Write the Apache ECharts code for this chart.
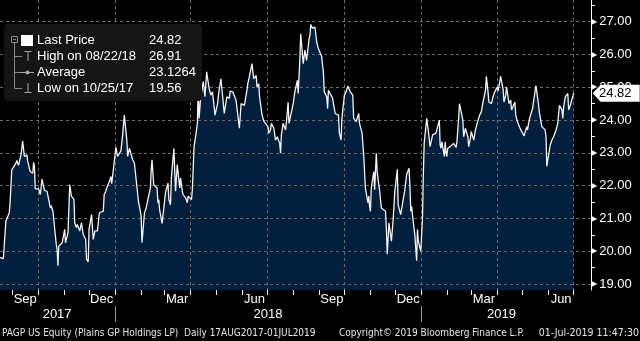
<!DOCTYPE html>
<html>
<head>
<meta charset="utf-8">
<script src="https://cdn.jsdelivr.net/npm/echarts@6/dist/echarts.min.js"></script>
<style>
  html, body { margin: 0; padding: 0; background: #000; }
  #chart { width: 640px; height: 341px; }
</style>
</head>
<body>
<div id="chart"></div>
<script>
// PAGP daily closing prices, 17 Aug 2017 – 01 Jul 2019
const dates = [
  '2017-08-17','2017-08-21','2017-08-22','2017-08-24','2017-08-28','2017-08-29','2017-08-31',
  '2017-09-05','2017-09-06','2017-09-08','2017-09-11','2017-09-13','2017-09-15','2017-09-18','2017-09-19','2017-09-20','2017-09-22','2017-09-25','2017-09-26','2017-09-27','2017-09-28','2017-09-29',
  '2017-10-02','2017-10-04','2017-10-06','2017-10-09','2017-10-12','2017-10-16','2017-10-17','2017-10-19','2017-10-20','2017-10-23','2017-10-24','2017-10-25','2017-10-26','2017-10-30',
  '2017-11-02','2017-11-03','2017-11-06','2017-11-08','2017-11-10','2017-11-13','2017-11-14','2017-11-16','2017-11-17','2017-11-20','2017-11-22','2017-11-24','2017-11-27','2017-11-28','2017-11-30',
  '2017-12-01','2017-12-04','2017-12-06','2017-12-08','2017-12-11','2017-12-13','2017-12-14','2017-12-18','2017-12-19','2017-12-21','2017-12-22','2017-12-26','2017-12-27','2017-12-28','2017-12-29',
  '2018-01-02','2018-01-04','2018-01-05','2018-01-08','2018-01-10','2018-01-12','2018-01-15','2018-01-16','2018-01-18','2018-01-19','2018-01-22','2018-01-24','2018-01-26','2018-01-29','2018-01-30',
  '2018-02-01','2018-02-02','2018-02-05','2018-02-07','2018-02-09','2018-02-12','2018-02-13','2018-02-14','2018-02-16','2018-02-20','2018-02-21','2018-02-22','2018-02-23','2018-02-26','2018-02-28',
  '2018-03-02','2018-03-05','2018-03-06','2018-03-08','2018-03-09','2018-03-12','2018-03-14','2018-03-16','2018-03-19','2018-03-20','2018-03-22','2018-03-23','2018-03-26','2018-03-28','2018-03-29',
  '2018-04-02','2018-04-03','2018-04-05','2018-04-06','2018-04-09','2018-04-10','2018-04-11','2018-04-12','2018-04-13','2018-04-16','2018-04-18','2018-04-20','2018-04-23','2018-04-25','2018-04-27','2018-04-30',
  '2018-05-01','2018-05-03','2018-05-04','2018-05-07','2018-05-09','2018-05-11','2018-05-14','2018-05-15','2018-05-17','2018-05-18','2018-05-21','2018-05-23','2018-05-25','2018-05-29','2018-05-30','2018-05-31',
  '2018-06-01','2018-06-04','2018-06-05','2018-06-07','2018-06-08','2018-06-11','2018-06-13','2018-06-15','2018-06-18','2018-06-19','2018-06-21','2018-06-22','2018-06-25','2018-06-27','2018-06-29',
  '2018-07-02','2018-07-03','2018-07-05','2018-07-06','2018-07-09','2018-07-11','2018-07-13','2018-07-16','2018-07-17','2018-07-18','2018-07-20','2018-07-23','2018-07-24','2018-07-26','2018-07-27','2018-07-30',
  '2018-08-01','2018-08-03','2018-08-06','2018-08-07','2018-08-09','2018-08-10','2018-08-13','2018-08-15','2018-08-17','2018-08-20','2018-08-21','2018-08-22','2018-08-24','2018-08-27','2018-08-29','2018-08-31',
  '2018-09-04','2018-09-05','2018-09-06','2018-09-07','2018-09-10','2018-09-11','2018-09-12','2018-09-14','2018-09-17','2018-09-18','2018-09-20','2018-09-21','2018-09-24','2018-09-25','2018-09-27','2018-09-28',
  '2018-10-01','2018-10-03','2018-10-05','2018-10-08','2018-10-09','2018-10-11','2018-10-12','2018-10-15','2018-10-16','2018-10-18','2018-10-19','2018-10-22','2018-10-24','2018-10-26','2018-10-29','2018-10-30','2018-10-31',
  '2018-11-01','2018-11-02','2018-11-05','2018-11-06','2018-11-08','2018-11-09','2018-11-12','2018-11-14','2018-11-16','2018-11-19','2018-11-20','2018-11-21','2018-11-23','2018-11-26','2018-11-28','2018-11-29','2018-11-30',
  '2018-12-03','2018-12-04','2018-12-06','2018-12-07','2018-12-12','2018-12-14','2018-12-17','2018-12-18','2018-12-19','2018-12-20','2018-12-21','2018-12-24','2018-12-26','2018-12-27','2018-12-28','2018-12-31',
  '2019-01-02','2019-01-03','2019-01-04','2019-01-07','2019-01-09','2019-01-11','2019-01-14','2019-01-16','2019-01-18','2019-01-22','2019-01-23','2019-01-24','2019-01-25','2019-01-28','2019-01-29','2019-01-30','2019-01-31',
  '2019-02-01','2019-02-04','2019-02-06','2019-02-08','2019-02-11','2019-02-12','2019-02-14','2019-02-15','2019-02-19','2019-02-20','2019-02-22','2019-02-25','2019-02-26','2019-02-28',
  '2019-03-01','2019-03-04','2019-03-06','2019-03-08','2019-03-11','2019-03-13','2019-03-15','2019-03-18','2019-03-19','2019-03-21','2019-03-22','2019-03-25','2019-03-27','2019-03-29',
  '2019-04-01','2019-04-02','2019-04-04','2019-04-05','2019-04-08','2019-04-09','2019-04-11','2019-04-12','2019-04-15','2019-04-17','2019-04-18','2019-04-22','2019-04-23','2019-04-25','2019-04-26','2019-04-29',
  '2019-05-01','2019-05-03','2019-05-06','2019-05-07','2019-05-09','2019-05-10','2019-05-13','2019-05-15','2019-05-17','2019-05-20','2019-05-21','2019-05-23','2019-05-24','2019-05-28','2019-05-29','2019-05-30','2019-05-31',
  '2019-06-03','2019-06-05','2019-06-07','2019-06-10','2019-06-12','2019-06-14','2019-06-17','2019-06-18','2019-06-19','2019-06-21','2019-06-24','2019-06-25','2019-06-27','2019-06-28',
  '2019-07-01'
];
const prices = [
  19.81, 19.78, 20.16, 20.92, 21.17, 21.48, 22.48,
  22.69, 22.77, 22.62, 22.94, 23.36, 22.89, 22.94, 22.74, 22.79, 22.43, 22.38, 22.71, 22.59, 21.90, 21.88,
  21.90, 21.73, 22.20, 21.86, 21.83, 21.32, 21.39, 21.22, 21.17, 20.21, 20.06, 19.56, 20.16, 20.26,
  20.67, 20.26, 20.57, 22.03, 21.68, 21.58, 20.87, 20.72, 20.82, 20.62, 20.87, 20.52, 20.36, 19.76, 19.68,
  20.67, 21.12, 20.36, 20.62, 20.62, 21.12, 21.19, 21.22, 21.73, 21.83, 21.93, 22.18, 22.28, 22.06, 22.08,
  23.17, 22.89, 22.87, 23.07, 23.55, 24.15, 23.39, 22.89, 23.14, 23.19, 22.79, 22.69, 22.64, 21.48, 21.37,
  21.07, 20.26, 21.17, 21.32, 21.37, 21.93, 22.48, 22.79, 22.03, 21.93, 21.48, 21.58, 21.27, 20.85, 21.32,
  21.78, 22.08, 21.58, 21.42, 22.23, 23.14, 21.83, 22.64, 21.93, 22.23, 21.83, 21.73, 21.63, 21.48, 21.68,
  21.58, 21.88, 23.19, 23.34, 23.90, 25.06, 24.05, 24.05, 24.71, 25.17, 24.71, 25.47, 24.96, 24.76, 24.86, 24.15,
  24.10, 24.50, 24.76, 25.26, 25.21, 24.20, 24.71, 24.71, 24.66, 24.88, 24.86, 24.86, 24.61, 23.75, 23.80, 24.50,
  24.55, 24.45, 24.61, 24.91, 25.11, 25.47, 25.72, 25.26, 25.36, 25.00, 25.11, 24.71, 24.15, 23.97, 23.93,
  23.80, 23.60, 23.70, 23.90, 23.75, 23.39, 23.49, 23.29, 22.99, 23.55, 23.90, 23.70, 23.95, 24.54, 23.90, 24.25,
  24.50, 24.86, 25.21, 24.81, 25.87, 26.63, 25.72, 26.13, 25.82, 26.48, 26.58, 26.91, 26.80, 26.83, 26.38, 26.18,
  25.93, 25.68, 25.47, 24.86, 24.71, 24.35, 24.91, 24.81, 24.66, 24.50, 24.20, 24.25, 24.15, 23.60, 23.39, 24.05,
  24.76, 24.86, 25.04, 24.86, 24.81, 24.76, 24.05, 23.95, 24.00, 24.20, 23.90, 23.60, 22.94, 21.93, 21.48, 21.68, 21.37,
  21.22, 21.93, 22.43, 21.88, 22.99, 22.43, 21.83, 21.32, 21.27, 21.22, 20.67, 19.91, 20.87, 20.31, 20.97, 21.37, 21.83,
  22.50, 21.42, 21.48, 21.12, 21.88, 22.33, 22.53, 22.03, 21.22, 21.37, 21.12, 20.46, 19.71, 20.67, 20.31, 20.00,
  21.07, 22.38, 23.29, 24.05, 23.65, 23.19, 23.55, 23.60, 23.60, 24.00, 23.24, 23.14, 23.34, 22.89, 23.34, 22.99, 22.89,
  23.14, 23.19, 23.14, 23.29, 23.17, 23.34, 24.05, 24.50, 24.00, 23.49, 23.75, 23.49, 23.19, 23.44,
  23.65, 23.39, 23.70, 23.90, 24.15, 24.25, 24.55, 24.91, 25.33, 24.86, 24.55, 24.50, 24.71, 24.86,
  25.01, 24.89, 24.91, 25.33, 24.93, 24.55, 24.76, 25.01, 24.50, 24.61, 24.31, 24.55, 24.15, 23.95, 24.00, 23.70,
  23.70, 23.52, 23.80, 23.70, 24.00, 24.10, 24.35, 24.71, 25.05, 24.50, 24.25, 24.31, 23.80, 23.70, 23.49, 22.59, 22.53,
  23.24, 23.39, 23.49, 23.70, 23.90, 24.45, 24.31, 24.05, 24.40, 24.71, 24.81, 24.31, 24.45, 24.55,
  24.82
];
const averagePrice = 23.1264;

// Axis ticks and labels
const yLabelValues = [19, 20, 21, 22, 23, 24, 25, 26, 27];
const yHalfTickValues = [19.5, 20.5, 21.5, 22.5, 23.5, 24.5, 25.5, 26.5, 27.5];
const monthTickDates = [
  '2017-09-01','2017-10-01','2017-11-01','2017-12-01','2018-01-01','2018-02-01','2018-03-01','2018-04-01',
  '2018-05-01','2018-06-01','2018-07-01','2018-08-01','2018-09-01','2018-10-01','2018-11-01','2018-12-01',
  '2019-01-01','2019-02-01','2019-03-01','2019-04-01','2019-05-01','2019-06-01','2019-07-01'
];
const quarterDates = ['2017-10-01','2018-01-01','2018-04-01','2018-07-01','2018-10-01','2019-01-01','2019-04-01','2019-07-01'];
const monthLabelDates = ['2017-09-16','2017-12-16','2018-03-16','2018-06-16','2018-09-16','2018-12-16','2019-03-16','2019-06-16'];
const monthLabels = ['Sep','Dec','Mar','Jun','Sep','Dec','Mar','Jun'];
const yearLabelDates = ['2017-10-24','2018-07-02','2019-04-06'];
const yearLabels = ['2017','2018','2019'];
const yearBreakDates = ['2018-01-01','2019-01-01'];

const footerLeft = 'PAGP US Equity (Plains GP Holdings LP)  Daily 17AUG2017-01JUL2019';
const footerMiddle = 'Copyright\u00A9 2019 Bloomberg Finance L.P.';
const footerRight = '01-Jul-2019 11:47:30';

const FONT = '"Liberation Sans", Arial, sans-serif';
const NARROW = '"DejaVu Sans Condensed", "Liberation Sans Narrow", sans-serif';
const GRID_COLOR = '#6c6c6c';
const FILL = '#031f3e';
const X_MIN = '2017-08-17';
const X_MAX = '2019-07-21 14:00:00';
const Y_MIN = 18.82;
const Y_MAX = 27.66;

// dates become timestamps on a numeric x axis
const P = s => +echarts.time.parse(s);
const seriesData = dates.map((d, i) => [P(d), prices[i]]);

const lastIdx = prices.length - 1;
const lastPrice = prices[lastIdx];
let hiIdx = 0, loIdx = 0;
prices.forEach((v, i) => { if (v > prices[hiIdx]) hiIdx = i; if (v < prices[loIdx]) loIdx = i; });
const mdy = s => s.slice(5, 7) + '/' + s.slice(8, 10) + '/' + s.slice(2, 4);

const legendRows = [
  ['Last Price', lastPrice.toFixed(2)],
  ['High on ' + mdy(dates[hiIdx]), prices[hiIdx].toFixed(2)],
  ['Average', averagePrice.toFixed(4)],
  ['Low on ' + mdy(dates[loIdx]), prices[loIdx].toFixed(2)]
];
const rowY = [40, 56, 72, 88];

const monthLabelMap = {};
monthLabelDates.forEach((d, i) => { monthLabelMap[P(d)] = monthLabels[i]; });
const yearLabelMap = {};
yearLabelDates.forEach((d, i) => { yearLabelMap[P(d)] = yearLabels[i]; });

const chart = echarts.init(document.getElementById('chart'), null, { renderer: 'canvas' });

const txt = (text, x, y, opts) => ({
  type: 'text', z: 20,
  style: Object.assign({
    text, x, y, fill: '#ffffff', font: '13px ' + FONT,
    textVerticalAlign: 'middle', verticalAlign: 'middle'
  }, opts || {})
});
const seg = (x1, y1, x2, y2, color) => ({
  type: 'line', z: 20, shape: { x1, y1, x2, y2 },
  style: { stroke: color || '#8a8a8a', lineWidth: 1 }
});

const graphics = [
  { type: 'rect', z: 19, shape: { x: 4, y: 24, width: 198, height: 77, r: 4 }, style: { fill: '#151515' } },
  // tree connector
  { type: 'rect', z: 20, shape: { x: 11.5, y: 36.5, width: 6, height: 6 }, style: { fill: 'none', stroke: '#8a8a8a', lineWidth: 1 } },
  seg(13, 39.5, 16, 39.5),
  seg(14.5, 43, 14.5, 88.5),
  seg(14.5, 56.5, 22, 56.5),
  seg(14.5, 72.5, 20, 72.5),
  seg(14.5, 88.5, 22, 88.5),
  // row icons
  { type: 'rect', z: 20, shape: { x: 21, y: 35, width: 12, height: 11 }, style: { fill: '#ffffff' } },
  seg(24.5, 51.5, 31.5, 51.5, '#a8a8a8'),
  seg(28, 51.5, 28, 61, '#a8a8a8'),
  seg(20, 72.5, 34, 72.5, '#a8a8a8'),
  { type: 'circle', z: 20, shape: { cx: 27.5, cy: 72.5, r: 2 }, style: { fill: '#a8a8a8' } },
  seg(28, 83, 28, 92.5, '#a8a8a8'),
  seg(24.5, 92.5, 31.5, 92.5, '#a8a8a8')
];
legendRows.forEach((r, i) => {
  graphics.push(txt(r[0], 37, rowY[i]));
  graphics.push(txt(r[1], 149, rowY[i]));
});
graphics.push(txt(footerLeft, 2, 333, { font: '10px ' + NARROW, fill: '#e6e6e6' }));
graphics.push(txt(footerMiddle, 339, 333, { font: '10px ' + NARROW, fill: '#e6e6e6' }));
graphics.push(txt(footerRight, 639, 333, { font: '10.5px ' + NARROW, fill: '#e6e6e6', textAlign: 'right', align: 'right' }));

const gridBox = { left: 0, right: 49, top: 0, bottom: 51, containLabel: false };
const xRange = { min: P(X_MIN), max: P(X_MAX) };

chart.setOption({
  backgroundColor: '#000000',
  animation: false,
  textStyle: { fontFamily: FONT },
  grid: [Object.assign({}, gridBox), Object.assign({}, gridBox)],
  xAxis: [
    Object.assign({
      type: 'value', gridIndex: 0, position: 'bottom', scale: true,
      axisLine: { show: false, onZero: false },
      axisTick: { show: true, customValues: monthTickDates.map(P), length: 5, lineStyle: { color: '#ffffff', width: 1 } },
      axisLabel: {
        show: true, customValues: monthLabelDates.map(P), hideOverlap: false,
        formatter: v => monthLabelMap[v] || '', color: '#ffffff', fontSize: 13, fontFamily: FONT, margin: 3
      },
      splitLine: { show: false }
    }, xRange),
    Object.assign({
      type: 'value', gridIndex: 0, position: 'top', z: 2, scale: true,
      axisLine: { show: false, onZero: false },
      axisTick: { show: false, customValues: quarterDates.map(P) },
      axisLabel: { show: false },
      splitLine: { show: true, lineStyle: { color: GRID_COLOR, type: [3, 3], width: 1 } }
    }, xRange),
    Object.assign({
      type: 'value', gridIndex: 1, position: 'bottom', offset: 16, scale: true,
      axisLine: { show: false, onZero: false },
      axisTick: { show: true, customValues: yearBreakDates.map(P), length: 16, lineStyle: { color: '#9a9a9a', width: 1 } },
      axisLabel: {
        show: true, customValues: yearLabelDates.map(P), hideOverlap: false,
        formatter: v => yearLabelMap[v] || '', color: '#ffffff', fontSize: 13, fontFamily: FONT, margin: 2
      },
      splitLine: { show: false }
    }, xRange)
  ],
  yAxis: [
    {
      type: 'value', gridIndex: 0, position: 'right', min: Y_MIN, max: Y_MAX,
      axisLine: { show: true, onZero: false, lineStyle: { color: '#ffffff', width: 1 } },
      axisTick: { show: true, customValues: yHalfTickValues, length: 4, lineStyle: { color: '#ffffff', width: 1 } },
      axisLabel: {
        show: true, customValues: yLabelValues, margin: 0,
        formatter: v => '{t|\u25B6}{v|' + Number(v).toFixed(2) + '}',
        rich: {
          t: { fontSize: 8, color: '#ffffff', fontFamily: '"DejaVu Sans", sans-serif', padding: [0, 2, 0, 0] },
          v: { fontSize: 13, color: '#ffffff', fontFamily: FONT }
        }
      },
      splitLine: { show: false }
    },
    {
      type: 'value', gridIndex: 0, position: 'left', min: Y_MIN, max: Y_MAX, z: 2,
      axisLine: { show: false, onZero: false },
      axisTick: { show: false, customValues: yLabelValues },
      axisLabel: { show: false },
      splitLine: { show: true, lineStyle: { color: GRID_COLOR, type: [3, 3], width: 1 } }
    },
    { type: 'value', gridIndex: 1, show: false, min: Y_MIN, max: Y_MAX }
  ],
  series: [
    {
      name: 'fill', type: 'line', xAxisIndex: 0, yAxisIndex: 0, z: 1, silent: true,
      data: seriesData, showSymbol: false, symbol: 'none',
      lineStyle: { width: 0 },
      areaStyle: { color: FILL, opacity: 1, origin: 'start' }
    },
    {
      name: 'PAGP', type: 'line', xAxisIndex: 0, yAxisIndex: 0, z: 3, silent: true,
      data: seriesData, showSymbol: false, symbol: 'none',
      lineStyle: { color: '#f4f4f4', width: 1.3 },
      markPoint: {
        silent: true,
        symbol: 'path://M0,9L8,0L48,0L48,18L8,18Z',
        symbolSize: [47, 17],
        symbolKeepAspect: false,
        symbolOffset: [42.5, 0],
        itemStyle: { color: '#ffffff' },
        label: {
          show: true, position: 'inside', color: '#000000', fontSize: 13, fontFamily: FONT,
          offset: [-1, 0], formatter: () => lastPrice.toFixed(2)
        },
        data: [{ coord: [P(dates[lastIdx]), lastPrice], value: lastPrice }]
      }
    }
  ],
  graphic: graphics
});
</script>
</body>
</html>
